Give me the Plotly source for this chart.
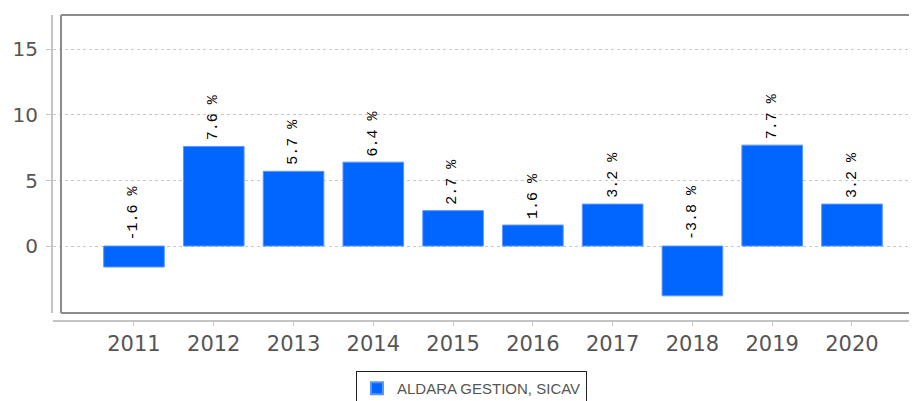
import plotly.graph_objects as go

years = ["2011", "2012", "2013", "2014", "2015", "2016", "2017", "2018", "2019", "2020"]
values = [-1.6, 7.6, 5.7, 6.4, 2.7, 1.6, 3.2, -3.8, 7.7, 3.2]
labels = [f"{v} %" for v in values]
series_name = "ALDARA GESTION, SICAV"
y_ticks = [0, 5, 10, 15]

# the page body adds an 8px margin, so the figure is 8px smaller than the window
W, H = 909, 393
L, T, B = 45, 7, 80
plot_w = W - L
plot_h = H - T - B

fig = go.Figure()
fig.add_trace(go.Bar(
    x=list(range(len(years))), y=values, name=series_name,
    marker=dict(color="#0066ff", line=dict(color="#5a96ff", width=1)),
    width=0.76, showlegend=True,
))

for i, (v, t) in enumerate(zip(values, labels)):
    fig.add_annotation(x=i, y=max(v, 0), text=t, textangle=-90, showarrow=False,
                       xanchor="center", yanchor="bottom", yshift=4,
                       font=dict(family="Liberation Mono", size=15, color="#000000"))

box_left = (53 - L) / plot_w
ydom0 = (313 - 305) / plot_h
line_col = "#8c8c8c"
fig.add_shape(type="line", xref="paper", yref="paper", x0=box_left, x1=1.02, y0=1, y1=1,
              line=dict(color=line_col, width=2))
fig.add_shape(type="line", xref="paper", yref="paper", x0=box_left, x1=box_left, y0=ydom0, y1=1,
              line=dict(color=line_col, width=2))
fig.add_shape(type="line", xref="paper", yref="paper", x0=box_left, x1=1.02, y0=ydom0, y1=ydom0,
              line=dict(color=line_col, width=2))

fig.update_layout(
    width=W, height=H,
    margin=dict(l=L, r=0, t=T, b=B, autoexpand=False),
    paper_bgcolor="white", plot_bgcolor="white",
    bargap=0.25,
    xaxis=dict(
        range=[-1.015, 9.815], tickmode="array", tickvals=list(range(len(years))), ticktext=years,
        showgrid=False, zeroline=False, showline=True, linecolor="#c4c4c4", linewidth=2,
        ticks="outside", ticklen=4, tickcolor="#c4c4c4", tickwidth=1,
        tickfont=dict(family="DejaVu Sans", size=21, color="#555555"),
        anchor="free", position=0, automargin=False,
    ),
    yaxis=dict(
        domain=[ydom0, 1], range=[-5.11, 17.63], tickmode="array", tickvals=y_ticks,
        showgrid=True, gridcolor="#c8c8c8", griddash="3px,3px", gridwidth=1, zeroline=False,
        showline=True, linecolor="#c4c4c4", linewidth=2,
        ticks="outside", ticklen=5, tickcolor="#c4c4c4",
        tickfont=dict(family="DejaVu Sans", size=20, color="#555555"),
        ticklabelstandoff=4, automargin=False,
    ),
    legend=dict(
        xref="container", yref="container", x=463.5 / W, y=1 - 363 / H,
        xanchor="center", yanchor="top", orientation="h",
        bordercolor="#222222", borderwidth=1, bgcolor="white",
        font=dict(family="Liberation Sans", size=15, color="#555555"),
        itemsizing="constant", itemwidth=30, tracegroupgap=0,
    ),
)

fig.write_html("out.html")
